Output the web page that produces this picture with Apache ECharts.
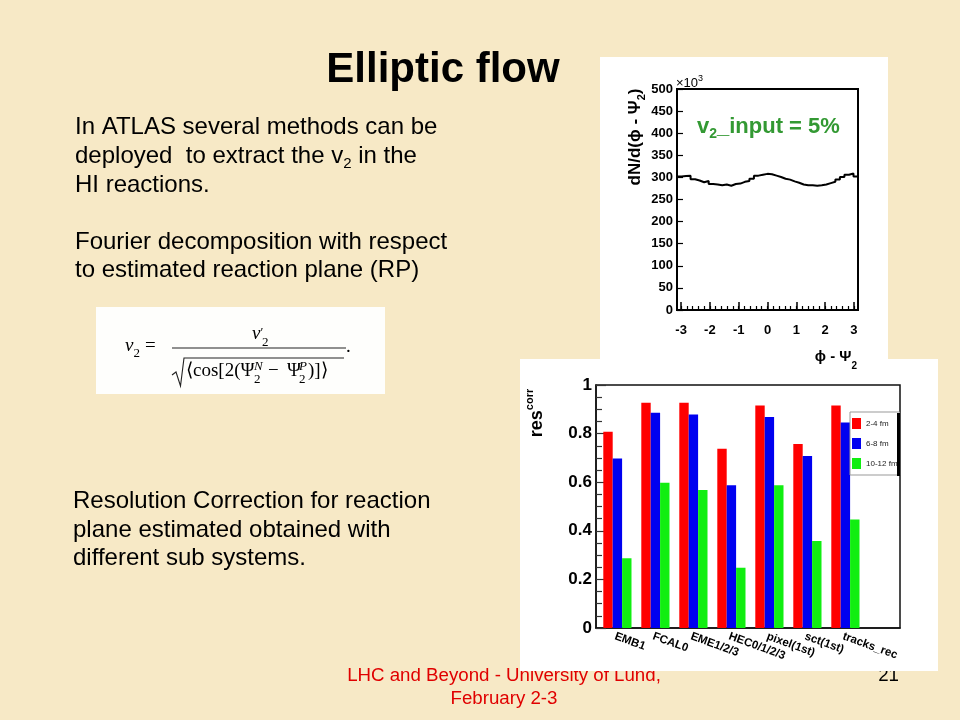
<!DOCTYPE html>
<html><head><meta charset="utf-8">
<script src="https://cdn.jsdelivr.net/npm/echarts@6/dist/echarts.min.js"></script>
<style>html,body{margin:0;padding:0;background:#F7E9C6}#c{width:960px;height:720px}</style>
</head><body><div id="c"></div>
<script>
// ---------------- DATA ----------------
// Top histogram: dN/d(phi - Psi2) in units of 10^3, 40 bins over [-pi, pi]
const dNdphi = [302,303,304,296,293,289,292,285,284,282,284,281,285,286,290,292,297,304,306,308,
                307,304,301,297,295,291,288,284,282,282,281,282,284,287,290,295,301,306,309,302];
const phiMajorTicks = [-3,-2,-1,0,1,2,3];
const dNdphiMin = 0, dNdphiMax = 500, dNdphiStep = 50;

// Bottom bar chart: resolution correction per sub-system
const detectors = ['EMB1','FCAL0','EME1/2/3','HEC0/1/2/3','pixel(1st)','sct(1st)','tracks_rec',''];
const res_2_4   = [0.808,0.927,0.927,0.738,0.916,0.757,0.916];
const res_6_8   = [0.698,0.886,0.879,0.587,0.868,0.708,0.846];
const res_10_12 = [0.287,0.598,0.568,0.248,0.587,0.358,0.446];
const legendNames = ['2-4 fm','6-8 fm','10-12 fm'];

// ---------------- helpers ----------------
const SANS = '"Liberation Sans", Arial, Helvetica, sans-serif';
const SERIF = '"Liberation Serif", "Times New Roman", serif';
const MID = 0.29; // baseline -> middle offset (fraction of font size)
const mctx = document.createElement('canvas').getContext('2d');
function fontStr(s){ return (s.style||'normal')+' '+(s.weight||'normal')+' '+s.size+'px '+(s.family||SANS); }
function tw(t,f){ mctx.font=f; return mctx.measureText(t).width; }
function runWidth(segs){ return segs.reduce((a,s)=>a+tw(s.t,fontStr(s))+(s.gap||0),0); }
function run(x, baseline, segs, z){
  const els=[]; let cx=x;
  segs.forEach(s=>{
    const f=fontStr(s);
    els.push({type:'text', x:cx, y:baseline+(s.dy||0)-MID*s.size, z:(z==null?10:z), silent:true,
      style:{text:s.t, font:f, fill:s.color||'#000', align:'left', verticalAlign:'middle'}});
    cx += tw(s.t,f)+(s.gap||0);
  });
  return els;
}
function runCentered(cx, cy, segs, rotation, mainSize){
  const W=runWidth(segs);
  return {type:'group', x:cx, y:cy, rotation:rotation||0, z:10,
    children: run(-W/2, MID*mainSize, segs, 10)};
}
function line(x, baseline, text, size, opt){ opt=opt||{}; return run(x, baseline, [{t:text,size:size,weight:opt.weight,color:opt.color,family:opt.family}], opt.z); }

// ---------------- graphic elements ----------------
const G = [];
G.push({type:'rect', shape:{x:0,y:0,width:960,height:720}, style:{fill:'#F7E9C6'}, z:-30, silent:true});
// footer (partly hidden under the lower white panel)
(function(){
  const f=18.7, t1='LHC and Beyond - University of Lund,', t2='February 2-3';
  const w1=tw(t1,fontStr({size:f})), w2=tw(t2,fontStr({size:f}));
  G.push(...run(504-w1/2, 681, [{t:t1,size:f,color:'#E00000'}], -25));
  G.push(...run(504-w2/2, 704, [{t:t2,size:f,color:'#E00000'}], -25));
  const w3=tw('21',fontStr({size:f}));
  G.push(...run(899-w3, 681, [{t:'21',size:f,color:'#000'}], -25));
})();
// white panels
G.push({type:'rect', shape:{x:600,y:57,width:288,height:310}, style:{fill:'#FFFFFF'}, z:-20, silent:true});
G.push({type:'rect', shape:{x:520,y:359,width:418,height:312}, style:{fill:'#FFFFFF'}, z:-20, silent:true});
G.push({type:'rect', shape:{x:96,y:307,width:289,height:87}, style:{fill:'#FEFEFC'}, z:-20, silent:true});

// title
(function(){ const s={t:'Elliptic flow',size:42,weight:'bold'}; const w=runWidth([s]); G.push(...run(443-w/2, 83, [s])); })();

// body text block 1
const B=24;
G.push(...line(75,134,'In ATLAS several methods can be',B));
G.push(...run(75,163,[{t:'deployed  to extract the v',size:B},{t:'2',size:15,dy:5},{t:' in the',size:B}]));
G.push(...line(75,192,'HI reactions.',B));
G.push(...line(75,249,'Fourier decomposition with respect',B));
G.push(...line(75,277,'to estimated reaction plane (RP)',B));
// body text block 2
G.push(...line(73,508,'Resolution Correction for reaction',B));
G.push(...line(73,537,'plane estimated obtained with',B));
G.push(...line(73,565,'different sub systems.',B));

// formula
const FS=19, SS=13;
G.push(...run(125,352,[{t:'v',size:FS,style:'italic',family:SERIF},{t:'2',size:SS,family:SERIF,dy:5,gap:5},{t:'=',size:FS,family:SERIF}]));
G.push(...run(252,340,[{t:'v',size:FS,style:'italic',family:SERIF},{t:'′',size:SS,family:SERIF,dy:-4}]));
G.push(...run(262,346,[{t:'2',size:SS,family:SERIF}]));
G.push({type:'line', shape:{x1:172,y1:348,x2:346,y2:348}, style:{stroke:'#222',lineWidth:1.1}, z:10, silent:true});
G.push(...run(346,353,[{t:'.',size:FS,family:SERIF}]));
G.push({type:'polyline', shape:{points:[[172,375],[176,372],[180.5,386],[184,358],[344,358]]}, style:{stroke:'#222',lineWidth:1.1,fill:null}, z:10, silent:true});
G.push(...run(186,377,[{t:'⟨cos[2(Ψ',size:FS,family:SERIF}]));
G.push(...run(254,370,[{t:'N',size:SS,style:'italic',family:SERIF}]));
G.push(...run(254,383,[{t:'2',size:SS,family:SERIF}]));
G.push(...run(268,377,[{t:'−',size:FS,family:SERIF}]));
G.push(...run(287,377,[{t:'Ψ',size:FS,family:SERIF}]));
G.push(...run(299,370,[{t:'P',size:SS,style:'italic',family:SERIF}]));
G.push(...run(299,383,[{t:'2',size:SS,family:SERIF}]));
G.push(...run(308,377,[{t:')]⟩',size:FS,family:SERIF}]));

// top chart annotations
G.push(...run(697,133,[{t:'v',size:22,weight:'bold',color:'#339933'},{t:'2',size:14,weight:'bold',dy:5,color:'#339933'},{t:'_input = 5%',size:22,weight:'bold',color:'#339933'}]));
G.push(...run(676,87,[{t:'×10',size:13},{t:'3',size:9,dy:-6}]));
G.push(runCentered(635,137,[{t:'dN/d(ϕ - Ψ',size:17,weight:'bold'},{t:'2',size:11,weight:'bold',dy:5},{t:')',size:17,weight:'bold'}],Math.PI/2,17));
(function(){ const segs=[{t:'ϕ - Ψ',size:15,weight:'bold'},{t:'2',size:10,weight:'bold',dy:8}]; const w=runWidth(segs); G.push(...run(857-w,361,segs)); })();
// bar chart y name
G.push(runCentered(537,413,[{t:'res',size:18,weight:'bold'},{t:'corr',size:11,weight:'bold',dy:-9}],Math.PI/2,18));
// legend shadow strip (ROOT style)
G.push({type:'rect', shape:{x:897,y:413,width:3,height:63}, style:{fill:'#000'}, z:20, silent:true});

// ---------------- series data ----------------
const nb=dNdphi.length, w=2*Math.PI/nb;
const histData = dNdphi.map((v,k)=>[-Math.PI+k*w, v]).concat([[Math.PI, dNdphi[nb-1]]]);
const phiMinorTicks=[]; for(let k=-15;k<=15;k++) phiMinorTicks.push(k/5);

const axisFont = {fontFamily:SANS, fontWeight:'bold', color:'#000'};
const option = {
  animation:false,
  graphic:{elements:G},
  grid:[
    {left:677, top:89, width:181, height:221, show:true, borderColor:'#000', borderWidth:2, backgroundColor:'transparent'},
    {left:596, top:385, width:304, height:243, show:true, borderColor:'#111', borderWidth:1.5, backgroundColor:'transparent'}
  ],
  xAxis:[
    {gridIndex:0, type:'value', position:'bottom', min:-Math.PI, max:Math.PI,
     axisLine:{show:true,onZero:false,lineStyle:{color:'#000',width:2}},
     axisTick:{show:true,inside:true,length:8,customValues:phiMajorTicks,lineStyle:{color:'#000',width:1.5}},
     axisLabel:Object.assign({customValues:phiMajorTicks, margin:14, fontSize:13},axisFont),
     splitLine:{show:false}},
    {gridIndex:0, type:'value', position:'bottom', min:-Math.PI, max:Math.PI,
     axisLine:{show:false,onZero:false},
     axisTick:{show:true,inside:true,length:4,customValues:phiMinorTicks,lineStyle:{color:'#000',width:1.2}},
     axisLabel:{show:false}, splitLine:{show:false}},
    {gridIndex:1, type:'category', position:'bottom', data:detectors,
     axisLine:{show:true,onZero:false,lineStyle:{color:'#111',width:1.5}}, axisTick:{show:false},
     axisLabel:Object.assign({interval:0, rotate:-20, margin:8, fontSize:11.5},axisFont),
     splitLine:{show:false}}
  ],
  yAxis:[
    {gridIndex:0, type:'value', position:'left', min:dNdphiMin, max:dNdphiMax, interval:dNdphiStep,
     axisLine:{show:true,onZero:false,lineStyle:{color:'#000',width:2}},
     axisTick:{show:true,inside:true,length:6,lineStyle:{color:'#000',width:1.2}},
     axisLabel:Object.assign({margin:4, fontSize:13},axisFont), splitLine:{show:false}},
    {gridIndex:1, type:'value', position:'left', min:0, max:1, interval:0.2,
     axisLine:{show:true,onZero:false,lineStyle:{color:'#111',width:1.5}},
     axisTick:{show:true,inside:true,length:10,lineStyle:{color:'#333',width:1.2}},
     minorTick:{show:true,splitNumber:4,length:6,lineStyle:{color:'#333',width:1.2}},
     axisLabel:Object.assign({margin:4, fontSize:17},axisFont), splitLine:{show:false}}
  ],
  legend:{data:legendNames, left:850, top:412, orient:'vertical', icon:'rect', itemWidth:9, itemHeight:11, itemGap:9,
    padding:[6,2,6,2], backgroundColor:'#fff', borderColor:'#999', borderWidth:1,
    textStyle:{fontFamily:SANS, fontSize:8, color:'#222'}, selectedMode:false, z:15},
  series:[
    {type:'line', xAxisIndex:0, yAxisIndex:0, step:'end', symbol:'none', data:histData,
     lineStyle:{color:'#000',width:2}, z:5},
    {type:'bar', name:'_offset', xAxisIndex:2, yAxisIndex:1, data:[], barWidth:4.8, barGap:'0%'},
    {type:'bar', name:legendNames[0], xAxisIndex:2, yAxisIndex:1, data:res_2_4, barWidth:9.4, barGap:'0%', itemStyle:{color:'#FF0000'}},
    {type:'bar', name:legendNames[1], xAxisIndex:2, yAxisIndex:1, data:res_6_8, barWidth:9.4, barGap:'0%', itemStyle:{color:'#0000F0'}},
    {type:'bar', name:legendNames[2], xAxisIndex:2, yAxisIndex:1, data:res_10_12, barWidth:9.4, barGap:'0%', itemStyle:{color:'#11EE11'}}
  ]
};
const chart = echarts.init(document.getElementById('c'), null, {renderer:'canvas', width:960, height:720});
chart.setOption(option);
</script>
</body></html>
